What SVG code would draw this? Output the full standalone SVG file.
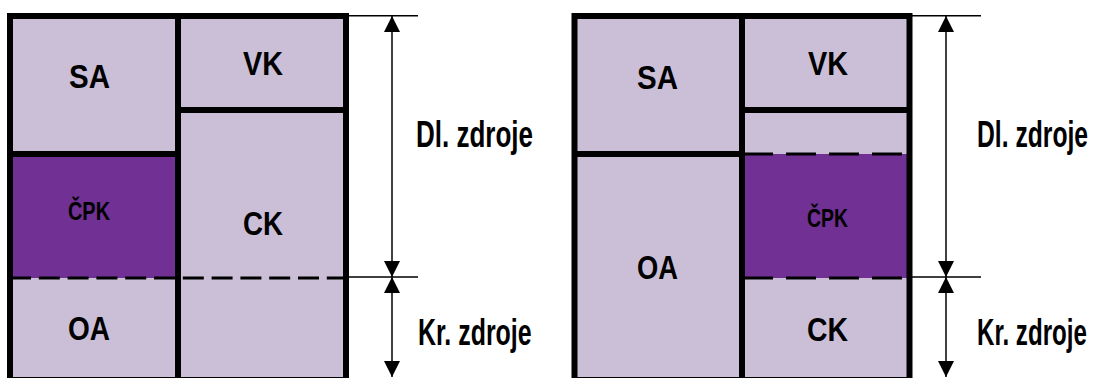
<svg xmlns="http://www.w3.org/2000/svg" width="1093" height="378" viewBox="0 0 1093 378">
  <style>
    .light { fill: #cbbfd8; }
    .dark { fill: #703094; }
    .wall { stroke: #000; stroke-width: 6; fill: none; }
    .dash-l { stroke: #000; stroke-width: 3; fill: none; stroke-dasharray: 21 7.8; }
    .dash-r { stroke: #000; stroke-width: 3; fill: none; stroke-dasharray: 30 13; }
    .dim { stroke: #000; stroke-width: 1.5; fill: none; }
    .arrow { stroke: #000; stroke-width: 1.5; fill: none; marker-start: url(#tip); marker-end: url(#tip); }
    .lbl { font-family: "Liberation Sans", Arial, sans-serif; font-weight: bold; font-size: 34px; fill: #000; text-anchor: middle; }
    .small { font-size: 25px; }
    .side { font-family: "Liberation Sans", Arial, sans-serif; font-weight: bold; font-size: 37px; fill: #000; }
  </style>
  <defs>
    <marker id="tip" markerUnits="userSpaceOnUse" markerWidth="16" markerHeight="16" refX="16" refY="8" orient="auto-start-reverse" viewBox="0 0 16 16">
      <path d="M0,0 L16,8 L0,16 Z" fill="#000"/>
    </marker>
  </defs>

  <rect width="1093" height="378" fill="#fff"/>

  <!-- Left balance sheet -->
  <g id="left-sheet">
    <g id="l-sa">
      <rect class="light" x="10" y="16" width="168" height="138"/>
      <text class="lbl" x="89.5" y="88" textLength="41" lengthAdjust="spacingAndGlyphs">SA</text>
    </g>
    <g id="l-cpk">
      <rect class="dark" x="10" y="154" width="168" height="124"/>
      <text class="lbl small" x="89" y="220" textLength="42" lengthAdjust="spacingAndGlyphs">ČPK</text>
    </g>
    <g id="l-oa">
      <rect class="light" x="10" y="278" width="168" height="102"/>
      <text class="lbl" x="89" y="340" textLength="42" lengthAdjust="spacingAndGlyphs">OA</text>
    </g>
    <g id="l-vk">
      <rect class="light" x="178" y="16" width="168" height="94"/>
      <text class="lbl" x="263" y="75" textLength="40" lengthAdjust="spacingAndGlyphs">VK</text>
    </g>
    <g id="l-ck">
      <rect class="light" x="178" y="110" width="168" height="270"/>
      <text class="lbl" x="263" y="235" textLength="40" lengthAdjust="spacingAndGlyphs">CK</text>
    </g>
    <g id="l-lines">
      <path class="dash-l" d="M10,278 H346"/>
      <path class="wall" d="M10,154 H178 M178,110 H346 M178,16 V380"/>
      <rect class="wall" x="10" y="16" width="336" height="364"/>
    </g>
  </g>

  <!-- Right balance sheet -->
  <g id="right-sheet">
    <g id="r-sa">
      <rect class="light" x="574.5" y="16" width="167.5" height="138"/>
      <text class="lbl" x="657.5" y="89" textLength="41" lengthAdjust="spacingAndGlyphs">SA</text>
    </g>
    <g id="r-oa">
      <rect class="light" x="574.5" y="154" width="167.5" height="226"/>
      <text class="lbl" x="657.5" y="279" textLength="41" lengthAdjust="spacingAndGlyphs">OA</text>
    </g>
    <g id="r-vk">
      <rect class="light" x="742" y="16" width="167.5" height="94"/>
      <text class="lbl" x="828" y="75" textLength="40" lengthAdjust="spacingAndGlyphs">VK</text>
    </g>
    <g id="r-gap">
      <rect class="light" x="742" y="110" width="167.5" height="44"/>
    </g>
    <g id="r-cpk">
      <rect class="dark" x="742" y="154" width="167.5" height="124"/>
      <text class="lbl small" x="827.5" y="227" textLength="41" lengthAdjust="spacingAndGlyphs">ČPK</text>
    </g>
    <g id="r-ck">
      <rect class="light" x="742" y="278" width="167.5" height="102"/>
      <text class="lbl" x="827.5" y="341" textLength="41" lengthAdjust="spacingAndGlyphs">CK</text>
    </g>
    <g id="r-lines">
      <path class="dash-r" d="M743,154 H909.5 M743,278 H909.5"/>
      <path class="wall" d="M574.5,154 H742 M742,110 H909.5 M742,16 V380"/>
      <rect class="wall" x="574.5" y="16" width="335" height="364"/>
    </g>
  </g>

  <!-- Dimension lines -->
  <g id="connectors">
    <path class="dim" d="M349,15.7 H418 M349,277 H418"/>
    <line class="arrow" x1="392" y1="16" x2="392" y2="277"/>
    <line class="arrow" x1="392" y1="277" x2="392" y2="377"/>
    <path class="dim" d="M912,15.7 H981 M912,277 H981"/>
    <line class="arrow" x1="946" y1="16" x2="946" y2="277"/>
    <line class="arrow" x1="946" y1="277" x2="946" y2="377"/>
  </g>

  <!-- Condensed side captions -->
  <g id="l-labels">
    <text class="side" transform="translate(416,147) scale(0.703,1)">Dl. zdroje</text>
    <text class="side" transform="translate(418,345) scale(0.674,1)">Kr. zdroje</text>
  </g>
  <g id="r-labels">
    <text class="side" transform="translate(977,147) scale(0.667,1)">Dl. zdroje</text>
    <text class="side" transform="translate(977,345) scale(0.652,1)">Kr. zdroje</text>
  </g>
</svg>
